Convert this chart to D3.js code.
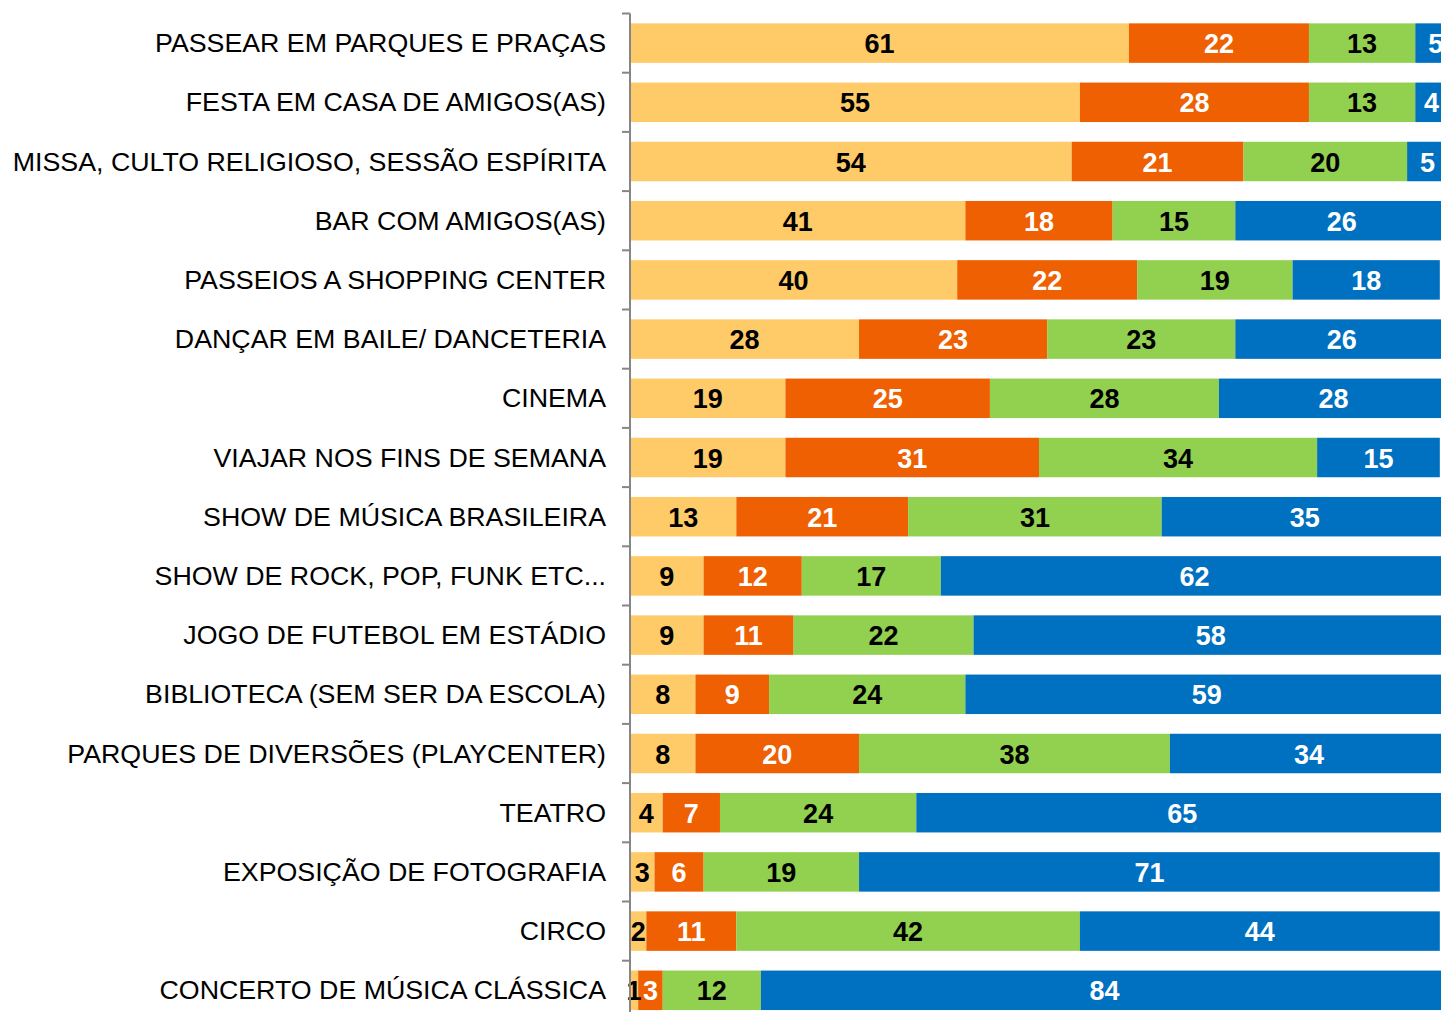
<!DOCTYPE html>
<html>
<head>
<meta charset="utf-8">
<script src="https://cdn.jsdelivr.net/npm/d3@7"></script>
<style>
  body { margin: 0; background: #fff; overflow: hidden; }
  svg { display: block; }
</style>
</head>
<body>
<script>
// categories, top to bottom
var categories = [
  "PASSEAR EM PARQUES E PRAÇAS",
  "FESTA EM CASA DE AMIGOS(AS)",
  "MISSA, CULTO RELIGIOSO, SESSÃO ESPÍRITA",
  "BAR COM AMIGOS(AS)",
  "PASSEIOS A SHOPPING CENTER",
  "DANÇAR EM BAILE/ DANCETERIA",
  "CINEMA",
  "VIAJAR NOS FINS DE SEMANA",
  "SHOW DE MÚSICA BRASILEIRA",
  "SHOW DE ROCK, POP, FUNK ETC...",
  "JOGO DE FUTEBOL EM ESTÁDIO",
  "BIBLIOTECA (SEM SER DA ESCOLA)",
  "PARQUES DE DIVERSÕES (PLAYCENTER)",
  "TEATRO",
  "EXPOSIÇÃO DE FOTOGRAFIA",
  "CIRCO",
  "CONCERTO DE MÚSICA CLÁSSICA"
];

// the four series, one value per category
var serie1 = [61, 55, 54, 41, 40, 28, 19, 19, 13, 9, 9, 8, 8, 4, 3, 2, 1];
var serie2 = [22, 28, 21, 18, 22, 23, 25, 31, 21, 12, 11, 9, 20, 7, 6, 11, 3];
var serie3 = [13, 13, 20, 15, 19, 23, 28, 34, 31, 17, 22, 24, 38, 24, 19, 42, 12];
var serie4 = [5, 4, 5, 26, 18, 26, 28, 15, 35, 62, 58, 59, 34, 65, 71, 44, 84];

var colors = ["#FFCA68", "#EE6002", "#92D050", "#0070C0"];
var textColors = ["#000", "#fff", "#000", "#fff"];

window.onload = function() {
  var width = 1441, height = 1012;
  var x0 = 630, step = 59.2, top = 13.5;

  var svg = d3.select("body")
    .append("svg")
    .attr("width", width)
    .attr("height", height);

  var series = [serie1, serie2, serie3, serie4];

  // table: one row per category with cumulative start/end per series
  var rows = categories.map(function(c, i) {
    var acc = 0;
    var segs = series.map(function(s, j) {
      var seg = {cat: c, j: j, v: s[i], x0: acc, x1: acc + s[i]};
      acc += s[i];
      return seg;
    });
    return {cat: c, segs: segs};
  });

  var xScale = d3.scaleLinear()
    .domain([0, 100])
    .range([x0, x0 + 818]);

  var yScale = d3.scaleBand()
    .domain(categories)
    .range([top, top + step * categories.length])
    .paddingInner(0.333)
    .paddingOuter(0.1665);

  // bars
  var g = svg.selectAll("g.row")
    .data(rows)
    .enter()
    .append("g")
    .attr("class", "row");

  g.selectAll("rect")
    .data(function(d) { return d.segs; })
    .enter()
    .append("rect")
    .attr("x", function(d) { return xScale(d.x0); })
    .attr("width", function(d) { return xScale(d.x1) - xScale(d.x0); })
    .attr("y", function(d) { return yScale(d.cat); })
    .attr("height", yScale.bandwidth())
    .style("fill", function(d) { return colors[d.j]; });

  // value labels
  g.selectAll("text")
    .data(function(d) { return d.segs; })
    .enter()
    .append("text")
    .attr("x", function(d) { return (xScale(d.x0) + xScale(d.x1)) / 2; })
    .attr("y", function(d) { return yScale(d.cat) + yScale.bandwidth() / 2 + 10; })
    .attr("text-anchor", "middle")
    .style("font-family", "'Liberation Sans', Arial, sans-serif")
    .style("font-weight", "bold")
    .style("font-size", "27px")
    .style("fill", function(d) { return textColors[d.j]; })
    .text(function(d) { return d.v; });

  // y axis: line with ticks at band boundaries
  var axis = svg.append("g").attr("class", "y axis");
  axis.append("line")
    .attr("x1", x0).attr("x2", x0)
    .attr("y1", top).attr("y2", top + step * categories.length)
    .style("stroke", "#868686")
    .style("stroke-width", 2);

  axis.selectAll("line.tick")
    .data(d3.range(categories.length + 1))
    .enter()
    .append("line")
    .attr("class", "tick")
    .attr("x1", x0 - 8).attr("x2", x0)
    .attr("y1", function(i) { return top + i * step; })
    .attr("y2", function(i) { return top + i * step; })
    .style("stroke", "#868686")
    .style("stroke-width", 2);

  // category labels (slightly wide, like the original)
  axis.selectAll("text")
    .data(categories)
    .enter()
    .append("text")
    .attr("transform", function(d) {
      return "translate(606," + (yScale(d) + yScale.bandwidth() / 2 + 9) + ") scale(1.05,1)";
    })
    .attr("text-anchor", "end")
    .style("font-family", "'Liberation Sans', Arial, sans-serif")
    .style("font-size", "25.5px")
    .style("fill", "#000")
    .text(function(d) { return d; });
};
</script>
</body>
</html>
